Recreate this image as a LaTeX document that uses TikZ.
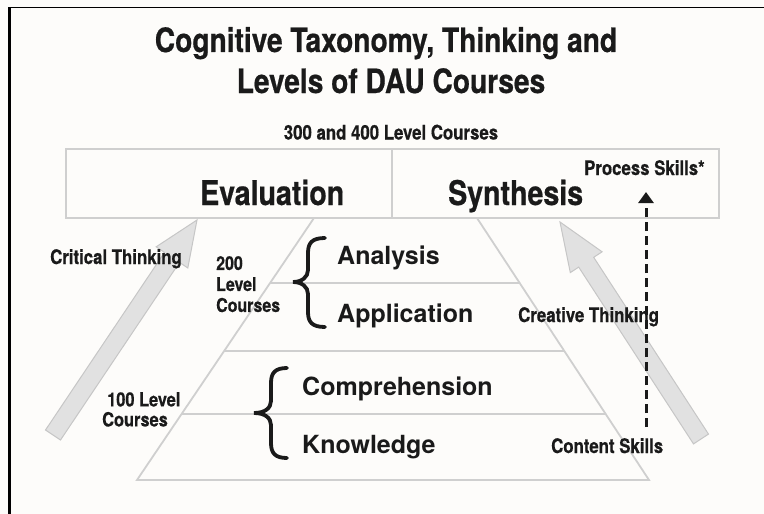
\documentclass[tikz,border=0pt]{standalone}
\usepackage{fontspec}
\setmainfont{TeX Gyre Heros}
\newfontfamily\condfont[FakeStretch=0.84,FakeBold=0.6]{TeX Gyre Heros}
\usetikzlibrary{arrows.meta}
\definecolor{linegray}{HTML}{CFCFCF}
\definecolor{arrowfill}{HTML}{E1E1E1}
\definecolor{arrowedge}{HTML}{C6C6C6}
\definecolor{ink}{HTML}{1A1A1A}
\definecolor{paper}{HTML}{FDFCFA}
\newcommand\fsz[2]{\fontsize{#1}{#2}\selectfont}
\begin{document}
\begin{tikzpicture}[x=1pt,y=-1pt,
  cond/.style={inner sep=0pt, text=ink, font=\condfont\bfseries},
  wide/.style={inner sep=0pt, text=ink, font=\bfseries\fsz{25}{30}, anchor=base west},
  boxline/.style={draw=linegray, line width=2.2pt},
  pyrline/.style={draw=linegray, line width=1.8pt},
  bigarrow/.style={fill=arrowfill, draw=arrowedge, line width=1pt, line join=miter},
  bracestyle/.style={draw=ink, line width=3.8pt, line cap=round},
  dasharrow/.style={draw=ink, line width=3pt, dash pattern=on 9pt off 5pt,
    -{Triangle[length=11pt,width=15pt]}},
  frameline/.style={draw=black}
]
\useasboundingbox (0,0) rectangle (764,514);
\fill[paper] (0,0) rectangle (764,514);
% frame
\draw[frameline, line width=1.6pt] (8,7.5) -- (764,7.5);
\draw[frameline, line width=3pt] (9.5,7) -- (9.5,514);

% top box
\draw[boxline] (66,149) rectangle (719,218);
\draw[boxline] (392,149) -- (392,218);

% pyramid
\draw[pyrline] (314,218) -- (477,218) -- (649,480) -- (137,480) -- cycle;
\draw[pyrline] (270.1,283) -- (519.7,283);
\draw[pyrline] (224.1,351) -- (564.3,351);
\draw[pyrline] (181.6,414) -- (605.7,414);

% big gray arrows
\draw[bigarrow] (45.5,430) -- (164.5,252.4) -- (156.2,246.8) -- (197,220)
  -- (187.8,268) -- (179.5,262.4) -- (60.5,440) -- cycle;
\draw[bigarrow] (693.5,443.9) -- (578.7,267.1) -- (570.3,272.6) -- (560,222)
  -- (602.1,251.8) -- (593.7,257.3) -- (708.5,434.1) -- cycle;

% dashed arrow
\coordinate (dashtail) at (646,427);
\coordinate (dashtip) at (646,192);
\draw[dasharrow] (dashtail) -- (dashtip);

% braces
\draw[bracestyle] (325,238) .. controls (312,238) and (308,243) .. (308,253)
  -- (308,270) .. controls (308,277) and (302,282) .. (293,282)
  .. controls (302,282) and (308,287) .. (308,294)
  -- (308,312) .. controls (308,322) and (312,327) .. (325,327);
\draw[bracestyle] (287,368) .. controls (275,368) and (271,373) .. (271,383)
  -- (271,401) .. controls (271,408) and (265,413) .. (254,413)
  .. controls (265,413) and (271,418) .. (271,425)
  -- (271,443) .. controls (271,453) and (275,458) .. (287,458);

% texts
\node[cond, anchor=base, font=\condfont\bfseries\fsz{33.5}{40}] (title1) at (386,52) {Cognitive Taxonomy, Thinking and};
\node[cond, anchor=base, font=\condfont\bfseries\fsz{33.5}{40}] (title2) at (391,93) {Levels of DAU Courses};
\node[cond, anchor=base, font=\condfont\bfseries\fsz{20}{24}] (lvl34) at (391,139.5) {300 and 400 Level Courses};
\node[cond, anchor=base west, font=\condfont\bfseries\fsz{34}{40}] (eval) at (200,205) {Evaluation};
\node[cond, anchor=base west, font=\condfont\bfseries\fsz{34}{40}] (synth) at (448,205) {Synthesis};
\node[cond, anchor=base west, font=\condfont\bfseries\fsz{20}{24}] (proc) at (584,175) {Process Skills*};
\node[cond, anchor=base west, font=\condfont\bfseries\fsz{20}{24}] (crit) at (50,264) {Critical Thinking};
\node[cond, anchor=north west, align=left, font=\condfont\bfseries\fsz{19}{21}] (lvl2) at (216,256) {200\\Level\\Courses};
\node[cond, anchor=north west, align=left, font=\condfont\bfseries\fsz{19.5}{20}] (lvl1) at (102,392) {\hspace{5pt}100 Level\\Courses};
\node[cond, anchor=base west, font=\condfont\bfseries\fsz{20}{24}] (creative) at (518,322) {Creative Thinking};
\node[cond, anchor=base west, font=\condfont\bfseries\fsz{20}{24}] (content) at (551,453) {Content Skills};

\node[wide] (analysis) at (337,264) {Analysis};
\node[wide] (application) at (337,322) {Application};
\node[wide] (comprehension) at (302,395) {Comprehension};
\node[wide] (knowledge) at (302,453) {Knowledge};
\end{tikzpicture}
\end{document}
